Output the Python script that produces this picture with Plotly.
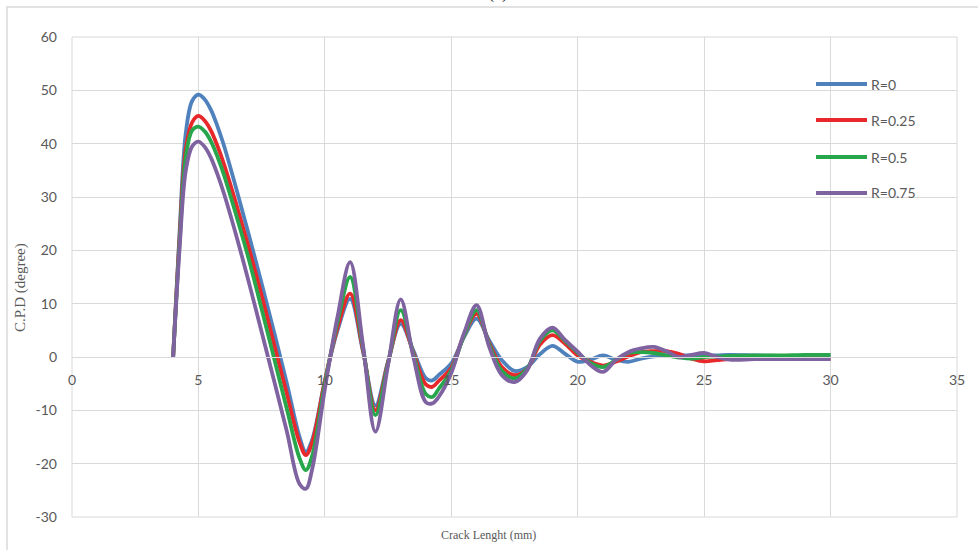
import plotly.graph_objects as go

crack_length = [4, 4.25, 4.5, 4.75, 5, 5.25, 5.5, 5.75, 6, 6.5, 7, 7.5, 8, 8.5, 9, 9.25, 9.5, 10, 10.5, 11,
                11.5, 12, 12.5, 13, 13.5, 14, 14.25, 14.5, 15, 15.5, 16, 16.5, 17, 17.5, 18, 18.5, 19, 19.5,
                20, 20.5, 21, 21.5, 22, 22.5, 23, 23.5, 24, 24.5, 25, 25.5, 26, 27, 28, 29, 30]

cpd_r0 = [0, 23, 42, 48, 49.2, 48.3, 46.3, 43.3, 39.8, 31.5, 22.8, 13.8, 4.5, -5, -15, -17.8, -15.5, -4.5, 5, 10.9,
          1.2, -9.1, -0.8, 6.2, 1.2, -4, -4.4, -3.4, -1.2, 3.7, 7.2, 3.1, -0.6, -2.6, -1.9, 0.5, 2.1, 0.6,
          -0.9, -0.5, 0.3, -0.5, -0.9, -0.3, 0.1, 0.3, 0.3, 0.3, 0.3, 0.3, 0.4, 0.3, 0.2, 0.1, 0.1]

cpd_r025 = [0, 22, 39, 44, 45.2, 44.3, 42.4, 39.6, 36.3, 28.6, 20.4, 11.6, 2.2, -7, -16, -18.4, -16, -4.5, 5.5, 11.9,
            1.5, -10, -1, 6.9, 0.8, -5.2, -5.6, -4.5, -2, 4, 8.1, 2.6, -1.9, -3.4, -2.2, 2.3, 4.1, 2.5,
            0.3, -0.9, -1.6, -0.9, 0.1, 0.9, 1.1, 1.1, 0.6, -0.3, -0.8, -0.6, -0.4, -0.3, -0.3, -0.3, -0.3]

cpd_r05 = [0, 21, 37.5, 42.5, 43.2, 42.3, 40.4, 37.6, 34.3, 26.5, 18.2, 9, -0.4, -9.8, -19, -21.2, -18.5, -5, 6.5, 15,
           2, -10.9, -1.2, 8.8, 0.5, -7, -7.5, -6, -2.5, 4, 8.8, 2.3, -2.6, -4, -2.2, 3, 5, 3.0,
           0.8, -1.1, -1.9, -0.6, 0.75, 0.9, 0.75, 0.3, -0.1, -0.3, 0, 0.1, 0.2, 0.3, 0.3, 0.4, 0.4]

cpd_r075 = [0, 20, 35, 39.5, 40.4, 39.4, 37.3, 34.3, 30.8, 22.7, 13.9, 4.7, -4.6, -14, -23.8, -24.7, -21, -6, 7.5, 17.8,
            2.5, -14, -1.5, 10.8, 0, -8.5, -8.7, -7.5, -3, 4.4, 9.7, 1.9, -3.4, -4.7, -2.5, 3.4, 5.5, 3.2,
            1.0, -1.5, -2.8, -0.6, 0.9, 1.6, 1.9, 1.1, 0, 0.4, 0.75, 0, -0.5, -0.4, -0.4, -0.4, -0.4]

series_names = ["R=0", "R=0.25", "R=0.5", "R=0.75"]
series_colors = ["#4F81BD", "#E8292B", "#27A64C", "#7F62A0"]
series_values = [cpd_r0, cpd_r025, cpd_r05, cpd_r075]

x_ticks = [0, 5, 10, 15, 20, 25, 30, 35]
y_ticks = [-30, -20, -10, 0, 10, 20, 30, 40, 50, 60]
y_tick_text = ["-30", "-20", "-10", "0", "10", "20", "30", "40", "50", "60"]

W, H = 978, 550
L, R, T, B = 72, 21, 37, 33
PW, PH = W - L - R, H - T - B


def px_x(px):
    return (px - L) / PW


def px_y(py):
    return (H - B - py) / PH


fig = go.Figure()
for name, color, vals in zip(series_names, series_colors, series_values):
    fig.add_trace(go.Scatter(
        x=crack_length, y=vals, name=name, mode="lines",
        line=dict(color=color, width=3.8, shape="spline", smoothing=1.0),
        showlegend=False,
    ))

grid = "#D9D9D9"
tickfont = dict(family="Lato, Open Sans, sans-serif", size=14, color="#595959")

fig.update_layout(
    width=W, height=H,
    margin=dict(l=L, r=R, t=T, b=B, autoexpand=False),
    paper_bgcolor="white", plot_bgcolor="white",
    xaxis=dict(range=[0, 35], tickvals=x_ticks, showgrid=True, gridcolor=grid, gridwidth=1,
               zeroline=False, showline=True, linecolor=grid, linewidth=1,
               anchor="free", position=1 / 3, tickfont=tickfont, ticks="",
               ticklabelstandoff=10),
    yaxis=dict(range=[-30, 60], tickvals=y_ticks, ticktext=y_tick_text, showgrid=True,
               gridcolor=grid, gridwidth=1,
               zeroline=False, showline=False, tickfont=tickfont, ticks="",
               ticklabelstandoff=14),
)

# plot frame
fig.add_shape(type="rect", xref="paper", yref="paper", x0=0, x1=1, y0=0, y1=1,
              line=dict(color=grid, width=1), layer="below")
# chart border
fig.add_shape(type="rect", xref="paper", yref="paper", x0=px_x(7), x1=px_x(990), y0=px_y(560), y1=px_y(7),
              line=dict(color=grid, width=1.5), layer="below")

# legend (manual)
leg_y = [84, 120, 157, 193]
for name, color, yy in zip(series_names, series_colors, leg_y):
    fig.add_shape(type="line", xref="paper", yref="paper", x0=px_x(816), x1=px_x(867),
                  y0=px_y(yy), y1=px_y(yy), line=dict(color=color, width=4))
    fig.add_annotation(xref="paper", yref="paper", x=px_x(869), y=px_y(yy), text=name,
                       showarrow=False, xanchor="left", yanchor="middle",
                       font=dict(family="Lato, Open Sans, sans-serif", size=14, color="#595959"))

serif = "Liberation Serif, Times New Roman, serif"
fig.add_annotation(xref="paper", yref="paper", x=px_x(488), y=px_y(535), text="Crack Lenght (mm)",
                   showarrow=False, xanchor="center", yanchor="middle",
                   font=dict(family=serif, size=12, color="#595959"))
fig.add_annotation(xref="paper", yref="paper", x=px_x(20), y=px_y(288), text="C.P.D (degree)",
                   showarrow=False, xanchor="center", yanchor="middle", textangle=-90,
                   font=dict(family=serif, size=15, color="#595959"))
fig.add_annotation(xref="paper", yref="paper", x=px_x(498), y=px_y(5), text="(a)",
                   showarrow=False, xanchor="center", yanchor="bottom",
                   font=dict(family=serif, size=18, color="#000000"))

fig.write_html("out.html", config={"displayModeBar": False},
               post_script="document.body.style.margin='0px';document.body.style.overflow='hidden';")
